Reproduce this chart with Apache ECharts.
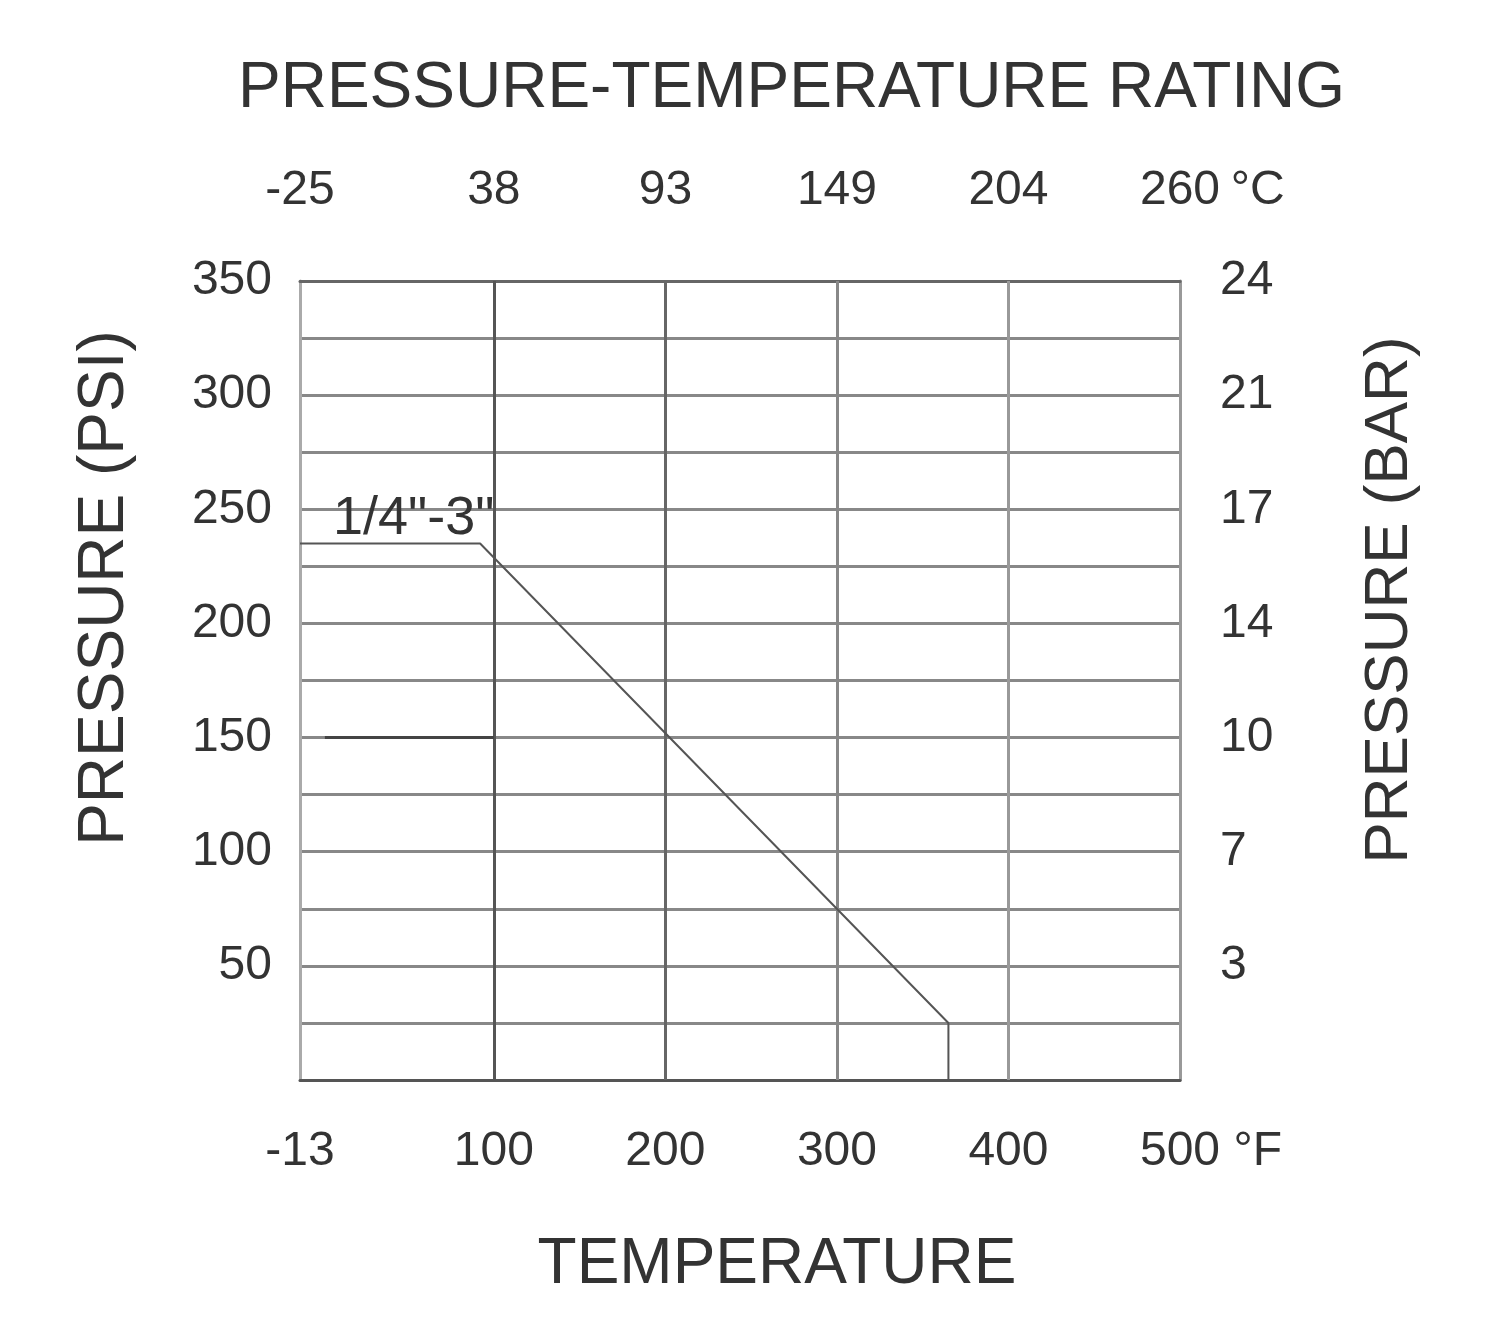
<!DOCTYPE html>
<html>
<head>
<meta charset="utf-8">
<script src="https://cdn.jsdelivr.net/npm/echarts@6/dist/echarts.min.js"></script>
<style>
  html, body { margin: 0; padding: 0; background: #fff; }
  #chart { width: 1485px; height: 1340px; }
</style>
</head>
<body>
<div id="chart"></div>
<script>
// Temperature ticks (deg F, bottom) and matching deg C labels (top)
var tempTicksF = [-13, 100, 200, 300, 400, 500];
var tempLabelsC = ['-25', '38', '93', '149', '204', '260'];

// Pressure ticks (psi, left) and matching bar labels (right)
var psiTicks = [50, 100, 150, 200, 250, 300, 350];
var barLabels = ['3', '7', '10', '14', '17', '21', '24'];

// Rating curve 1/4"-3" : [deg F, psi]
var ratingCurve = [[-13, 235], [92, 235], [365, 25], [365, 0]];
// short 150 psi segment
var segment150 = [[1.5, 150], [100, 150]];

var chart = echarts.init(document.getElementById('chart'));

var font = 'Liberation Sans, Arial, sans-serif';
var labelStyle = { fontFamily: font, fontSize: 48, color: '#333' };

function unitLabel(text, unit) {
    return '{pad|}' + text + '{u|' + unit + '}';
}
var unitRich = {
    pad: { width: 62 },
    u: { width: 62, align: 'left', fontFamily: font, fontSize: 48, color: '#333' }
};

var option = {
    animation: false,
    backgroundColor: '#fff',
    title: {
        text: 'PRESSURE-TEMPERATURE RATING',
        left: 233,
        top: 52,
        textStyle: { fontFamily: font, fontSize: 64, fontWeight: 'normal', color: '#333' }
    },
    grid: {
        left: 300, right: 305, top: 281, bottom: 260,
        show: true, borderColor: '#888', borderWidth: 2
    },
    xAxis: [{
        type: 'value',
        position: 'bottom',
        min: -13, max: 500,
        axisLine: { show: true, onZero: false, lineStyle: { color: '#555', width: 3 } },
        axisTick: { show: false },
        splitLine: { show: false },
        axisLabel: Object.assign({}, labelStyle, {
            customValues: tempTicksF,
            margin: 48,
            formatter: function (v) {
                return v === 500 ? unitLabel('500', ' °F') : String(v);
            },
            rich: unitRich
        })
    }, {
        type: 'value',
        position: 'top',
        min: -13, max: 500,
        axisLine: { show: true, onZero: false, lineStyle: { color: '#666', width: 3 } },
        axisTick: { show: false },
        splitLine: { show: false },
        axisLabel: Object.assign({}, labelStyle, {
            customValues: tempTicksF,
            margin: 66,
            formatter: function (v) {
                var i = tempTicksF.indexOf(v);
                var t = i >= 0 ? tempLabelsC[i] : '';
                return v === 500 ? unitLabel(t, ' °C') : t;
            },
            rich: unitRich
        })
    }],
    yAxis: [{
        type: 'value',
        position: 'left',
        min: 0, max: 350, interval: 25,
        axisLine: { show: true, onZero: false, lineStyle: { color: '#aaa', width: 3 } },
        axisTick: { show: false },
        splitLine: { show: true, lineStyle: { color: '#888', width: 3 } },
        axisLabel: Object.assign({}, labelStyle, {
            margin: 28,
            formatter: function (v) {
                return psiTicks.indexOf(v) >= 0 ? String(v) : '';
            }
        })
    }, {
        type: 'value',
        position: 'right',
        min: 0, max: 350, interval: 25,
        axisLine: { show: true, onZero: false, lineStyle: { color: '#999', width: 3 } },
        axisTick: { show: false },
        splitLine: { show: false },
        axisLabel: Object.assign({}, labelStyle, {
            margin: 40,
            formatter: function (v) {
                var i = psiTicks.indexOf(v);
                return i >= 0 ? barLabels[i] : '';
            }
        })
    }],
    series: [{
        name: 'grid',
        type: 'line',
        data: [],
        silent: true,
        markLine: {
            symbol: 'none',
            silent: true,
            label: { show: false },
            data: [
                { xAxis: 100, lineStyle: { color: '#555', width: 3, type: 'solid' } },
                { xAxis: 200, lineStyle: { color: '#666', width: 3, type: 'solid' } },
                { xAxis: 300, lineStyle: { color: '#888', width: 3, type: 'solid' } },
                { xAxis: 400, lineStyle: { color: '#999', width: 3, type: 'solid' } }
            ]
        }
    }, {
        name: '1/4"-3"',
        type: 'line',
        data: ratingCurve,
        showSymbol: false,
        lineStyle: { color: '#555', width: 2 },
        z: 5
    }, {
        name: '150',
        type: 'line',
        data: segment150,
        showSymbol: false,
        lineStyle: { color: '#444', width: 3 },
        z: 5
    }],
    graphic: [{
        type: 'text',
        left: 333,
        top: 492,
        style: { text: '1/4"-3"', fontFamily: font, fontSize: 54, fill: '#333' },
        z: 10
    }, {
        // axis titles
        type: 'text',
        x: 105, y: 588,
        rotation: Math.PI / 2,
        style: { text: 'PRESSURE (PSI)', fontFamily: font, fontSize: 64, fill: '#333',
                 align: 'center', verticalAlign: 'middle' }
    }, {
        type: 'text',
        x: 1390, y: 600,
        rotation: Math.PI / 2,
        style: { text: 'PRESSURE (BAR)', fontFamily: font, fontSize: 62, fill: '#333',
                 align: 'center', verticalAlign: 'middle' }
    }, {
        type: 'text',
        x: 777, y: 1265,
        style: { text: 'TEMPERATURE', fontFamily: font, fontSize: 64, fill: '#333',
                 align: 'center', verticalAlign: 'middle' }
    }]
};

chart.setOption(option);
</script>
</body>
</html>
